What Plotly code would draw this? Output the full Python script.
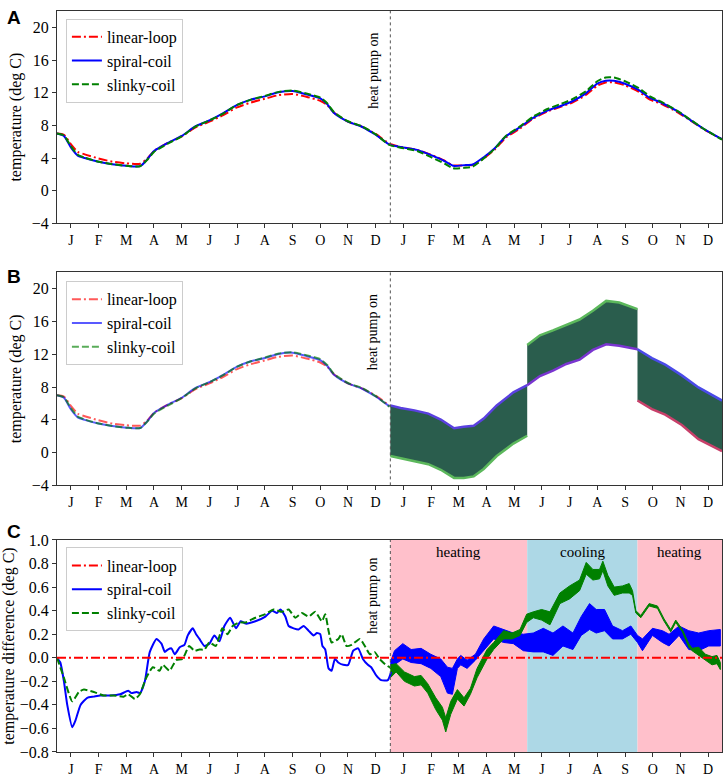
import plotly.graph_objects as go

# ground temperature around the three collectors, two years, x in months
MONTH_LETTERS = ["J", "F", "M", "A", "M", "J", "J", "A", "S", "O", "N", "D"]
HEAT_PUMP_ON = 12.03

A_MONTHS = [0, 0.25, 0.5, 0.75, 1.0, 1.5, 2.0, 2.5, 3.0, 3.25, 3.5, 4.0, 4.5, 5.0,
            5.5, 6.0, 6.5, 7.0, 7.5, 8.0, 8.5, 9.0, 9.5, 9.75, 10.0, 10.5, 11.0, 11.5,
            12.0, 12.5, 13.0, 13.5, 14.0, 14.3, 14.7, 15.0, 15.4, 15.8, 16.2, 16.7,
            17.2, 17.7, 18.2, 18.6, 19.1, 19.5, 19.8, 20.1, 20.5, 21.0, 21.4, 21.8,
            22.4, 22.9, 23.4, 24.0]
LINEAR_T = [7.0, 6.85, 5.7, 4.75, 4.45, 3.95, 3.55, 3.35, 3.3, 3.9, 4.85, 5.85, 6.65,
            7.75, 8.45, 9.25, 10.2, 10.8, 11.25, 11.7, 11.85, 11.5, 11.0, 10.5, 9.55,
            8.45, 7.85, 6.95, 5.75, 5.3, 5.0, 4.4, 3.65, 3.1, 3.1, 3.15, 3.95, 5.05,
            6.5, 7.6, 8.85, 9.7, 10.3, 10.8, 11.75, 12.85, 13.25, 13.25, 12.9, 12.1,
            11.15, 10.65, 9.6, 8.5, 7.4, 6.3]
SPIRAL_T = [7.0, 6.7, 5.3, 4.3, 4.0, 3.55, 3.25, 3.05, 3.0, 3.8, 4.85, 5.85, 6.7, 7.9,
            8.6, 9.5, 10.5, 11.15, 11.55, 12.05, 12.2, 11.8, 11.3, 10.6, 9.5, 8.45,
            7.83, 6.85, 5.65, 5.3, 5.0, 4.35, 3.6, 3.05, 3.13, 3.2, 4.1, 5.2, 6.65,
            7.75, 8.95, 9.8, 10.4, 10.95, 11.95, 13.1, 13.45, 13.45, 13.1, 12.3, 11.35,
            10.8, 9.7, 8.55, 7.45, 6.3]
SLINKY_T = [7.0, 6.75, 5.45, 4.4, 4.05, 3.55, 3.25, 3.05, 3.0, 3.75, 4.75, 5.75, 6.65,
            7.85, 8.6, 9.45, 10.5, 11.15, 11.6, 12.1, 12.25, 11.9, 11.4, 10.7, 9.6,
            8.5, 7.9, 6.9, 5.6, 5.2, 4.85, 4.1, 3.3, 2.75, 2.8, 2.95, 3.95, 5.15, 6.7,
            7.85, 9.1, 10.0, 10.65, 11.2, 12.2, 13.4, 13.85, 13.85, 13.4, 12.55, 11.55,
            10.9, 9.75, 8.6, 7.45, 6.25]

# panel B, second year: band swept by the daily heat pump cycling
B_MONTHS = [12.03, 12.4, 12.9, 13.4, 13.85, 14.33, 14.68, 15.04, 15.4, 15.87, 16.47,
            16.97, 16.97, 17.43, 17.9, 18.38, 18.86, 19.34, 19.82, 20.29, 20.95,
            20.95, 21.47, 21.95, 22.55, 23.15, 24.0]
B_UPPER = [5.77, 5.44, 5.16, 4.76, 4.04, 2.97, 3.17, 3.29, 4.16, 5.76, 7.36, 8.23,
           13.13, 14.33, 14.93, 15.61, 16.25, 17.32, 18.52, 18.32, 17.52, 12.62, 11.54,
           10.74, 9.43, 7.96, 6.36]
B_LOWER = [-0.42, -0.7, -1.0, -1.41, -2.09, -3.09, -3.09, -2.9, -2.0, -0.42, 1.1, 2.06,
           8.23, 9.35, 10.02, 10.82, 11.34, 12.54, 13.22, 13.06, 12.62, 6.36, 5.32,
           4.64, 3.37, 1.65, 0.18]

# panel C: difference to linear-loop
LINEAR_DIFF_MONTHS = [0, 24]
LINEAR_DIFF = [0.0, 0.0]
SPIRAL_D_MONTHS = [0, 0.12, 0.25, 0.37, 0.55, 0.67, 0.85, 1.09, 1.33, 1.56, 1.92, 2.28,
                   2.57, 2.69, 2.87, 3.0, 3.17, 3.35, 3.59, 3.77, 3.89, 4.0, 4.13, 4.25,
                   4.43, 4.6, 4.72, 4.9, 5.02, 5.14, 5.32, 5.5, 5.68, 5.86, 6.04, 6.25,
                   6.46, 6.63, 6.81, 7.16, 7.52, 7.76, 7.94, 8.06, 8.24, 8.36, 8.54, 8.72,
                   8.9, 9.08, 9.26, 9.38, 9.5, 9.58, 9.68, 9.8, 9.91, 10.03, 10.15, 10.33,
                   10.51, 10.69, 10.87, 11.04, 11.22, 11.34, 11.52, 11.7, 11.94, 12.06]
SPIRAL_D = [0.0, -0.04, -0.2, -0.4, -0.59, -0.53, -0.4, -0.34, -0.33, -0.32, -0.32, -0.31,
            -0.28, -0.30, -0.29, -0.30, -0.2, 0.05, 0.16, 0.12, 0.05, 0.07, 0.08, 0.03,
            0.09, 0.11, 0.19, 0.25, 0.2, 0.16, 0.1, 0.12, 0.19, 0.14, 0.27, 0.34, 0.25,
            0.31, 0.29, 0.31, 0.35, 0.40, 0.38, 0.41, 0.35, 0.27, 0.25, 0.24, 0.27, 0.23,
            0.19, 0.21, 0.2, 0.1, 0.07, -0.09, -0.11, -0.01, -0.04, -0.06, -0.06, 0.06,
            0.08, -0.01, -0.06, -0.08, -0.15, -0.19, -0.19, -0.12]
SLINKY_D_MONTHS = [0, 0.25, 0.55, 0.79, 0.97, 1.33, 1.68, 2.04, 2.4, 2.57, 2.81, 2.99,
                   3.22, 3.46, 3.7, 3.82, 4.06, 4.3, 4.53, 4.77, 4.96, 5.14, 5.32, 5.5,
                   5.73, 5.97, 6.15, 6.34, 6.57, 6.81, 7.16, 7.52, 7.82, 8.12, 8.36, 8.6,
                   8.84, 9.08, 9.32, 9.56, 9.68, 9.8, 9.91, 10.15, 10.27, 10.45, 10.63,
                   10.93, 11.11, 11.29, 11.46, 11.64, 11.82, 12.06]
SLINKY_D = [0, -0.17, -0.37, -0.29, -0.27, -0.29, -0.32, -0.32, -0.33, -0.31, -0.35,
            -0.31, -0.17, -0.08, -0.11, -0.06, -0.11, -0.02, -0.01, 0.1, 0.06, 0.07,
            0.07, 0.13, 0.1, 0.25, 0.2, 0.27, 0.3, 0.3, 0.34, 0.37, 0.41, 0.39, 0.41,
            0.34, 0.38, 0.35, 0.39, 0.31, 0.37, 0.23, 0.13, 0.16, 0.2, 0.1, 0.11, 0.16,
            0.1, 0.03, 0.05, -0.01, -0.05, -0.09]

SPIRAL_BAND_MONTHS = [12.03, 12.18, 12.48, 12.78, 13.14, 13.49, 13.85, 14.09, 14.27,
                      14.45, 14.57, 14.8, 15.1, 15.4, 15.76, 16.12, 16.47, 16.83, 17.19,
                      17.55, 17.9, 18.26, 18.62, 18.92, 19.22, 19.46, 19.76, 20.05,
                      20.41, 20.71, 20.95, 21.13, 21.49, 21.85, 22.09, 22.45, 22.8,
                      23.16, 23.52, 23.94]
SPIRAL_BAND_HI = [-0.04, 0.06, 0.12, 0.07, 0.08, 0.03, -0.01, -0.08, -0.09, -0.01, 0.02,
                  -0.02, 0.03, 0.16, 0.27, 0.24, 0.21, 0.20, 0.21, 0.25, 0.21, 0.27,
                  0.21, 0.35, 0.46, 0.41, 0.41, 0.27, 0.23, 0.27, 0.19, 0.16, 0.25,
                  0.23, 0.20, 0.27, 0.23, 0.21, 0.23, 0.24]
SPIRAL_BAND_LO = [-0.09, -0.06, -0.01, -0.04, -0.05, -0.09, -0.16, -0.30, -0.31, -0.09,
                  -0.06, -0.09, -0.02, 0.06, 0.16, 0.13, 0.12, 0.06, 0.05, 0.05, 0.02,
                  0.10, 0.07, 0.19, 0.24, 0.21, 0.23, 0.16, 0.16, 0.20, 0.13, 0.06,
                  0.19, 0.13, 0.10, 0.19, 0.07, 0.06, 0.10, 0.10]
SLINKY_BAND_MONTHS = [12.03, 12.24, 12.54, 12.9, 13.14, 13.38, 13.67, 13.91, 14.03,
                      14.21, 14.45, 14.69, 14.92, 15.16, 15.52, 15.76, 16.12, 16.42,
                      16.71, 16.95, 17.19, 17.49, 17.79, 18.15, 18.5, 18.86, 19.1,
                      19.34, 19.58, 19.7, 19.88, 20.11, 20.41, 20.65, 20.77, 20.89,
                      21.07, 21.37, 21.67, 21.91, 22.15, 22.33, 22.57, 22.8, 22.92,
                      23.16, 23.4, 23.64, 23.82, 23.94]
SLINKY_BAND_HI = [-0.06, -0.05, -0.12, -0.16, -0.15, -0.22, -0.34, -0.42, -0.51, -0.37,
                  -0.27, -0.34, -0.26, -0.09, 0.07, 0.13, 0.23, 0.21, 0.24, 0.37, 0.39,
                  0.41, 0.39, 0.55, 0.61, 0.66, 0.81, 0.75, 0.75, 0.82, 0.70, 0.60,
                  0.61, 0.63, 0.57, 0.40, 0.36, 0.46, 0.44, 0.33, 0.24, 0.32, 0.24,
                  0.12, 0.08, 0.09, 0.03, 0.01, 0.02, -0.04]
SLINKY_BAND_LO = [-0.17, -0.12, -0.20, -0.24, -0.23, -0.30, -0.44, -0.53, -0.63, -0.48,
                  -0.35, -0.41, -0.31, -0.17, -0.01, 0.07, 0.16, 0.16, 0.19, 0.30, 0.34,
                  0.32, 0.28, 0.46, 0.50, 0.57, 0.71, 0.66, 0.67, 0.74, 0.61, 0.53,
                  0.55, 0.55, 0.53, 0.38, 0.34, 0.44, 0.42, 0.31, 0.22, 0.30, 0.22,
                  0.09, 0.06, 0.02, -0.02, -0.06, -0.05, -0.10]

PERIOD_START = [12.03, 16.97, 20.95]
PERIOD_END = [16.97, 20.95, 24.0]
PERIOD_LABEL = ["heating", "cooling", "heating"]
PERIOD_COLOR = ["pink", "lightblue", "pink"]

SERIF = "Liberation Serif"
DASHDOT = "9px,3px,2px,3px"
DASHED = "7px,3px"

fig = go.Figure()

# ---- panel A
styles = [("linear-loop", LINEAR_T, "red", DASHDOT),
          ("spiral-coil", SPIRAL_T, "blue", "solid"),
          ("slinky-coil", SLINKY_T, "green", DASHED)]
for name, vals, col, dash in styles:
    fig.add_trace(go.Scatter(x=A_MONTHS, y=vals, mode="lines", name=name,
                             line=dict(color=col, width=2, dash=dash, shape="spline", smoothing=0.6),
                             xaxis="x", yaxis="y", legend="legend"))

# ---- panel B
light = {"red": "rgba(255,0,0,0.65)", "blue": "rgba(0,0,255,0.65)", "green": "rgba(0,128,0,0.65)"}
n1 = sum(1 for m in A_MONTHS if m <= HEAT_PUMP_ON)
for name, vals, col, dash in styles:
    fig.add_trace(go.Scatter(x=A_MONTHS[:n1], y=vals[:n1], mode="lines", name=name,
                             line=dict(color=light[col], width=2, dash=dash, shape="spline", smoothing=0.6),
                             xaxis="x2", yaxis="y2", legend="legend2"))

fig.add_trace(go.Scatter(x=B_MONTHS + B_MONTHS[::-1], y=B_UPPER + B_LOWER[::-1],
                         fill="toself", fillcolor="#2a5d4d", mode="lines",
                         line=dict(width=0, color="#2a5d4d"), showlegend=False,
                         xaxis="x2", yaxis="y2"))
# edges of the band, split where the heat pump switches mode
cuts = [0] + [i for i in range(1, len(B_MONTHS)) if B_MONTHS[i] == B_MONTHS[i - 1]] + [len(B_MONTHS)]
edge_top = ["#5a40e0", "#5cb85c", "#4a4ae8"]
edge_bot = ["#5cb85c", "#7a35d0", "#c8406a"]
for k in range(len(cuts) - 1):
    sl = slice(cuts[k], cuts[k + 1])
    fig.add_trace(go.Scatter(x=B_MONTHS[sl], y=B_UPPER[sl], mode="lines", showlegend=False,
                             line=dict(color=edge_top[k], width=2.5), xaxis="x2", yaxis="y2"))
    fig.add_trace(go.Scatter(x=B_MONTHS[sl], y=B_LOWER[sl], mode="lines", showlegend=False,
                             line=dict(color=edge_bot[k], width=2.5), xaxis="x2", yaxis="y2"))

# ---- panel C
fig.add_trace(go.Scatter(x=SPIRAL_BAND_MONTHS + SPIRAL_BAND_MONTHS[::-1],
                         y=SPIRAL_BAND_HI + SPIRAL_BAND_LO[::-1], fill="toself",
                         fillcolor="blue", mode="lines", line=dict(width=1, color="blue"),
                         showlegend=False, xaxis="x3", yaxis="y3"))
fig.add_trace(go.Scatter(x=SLINKY_BAND_MONTHS + SLINKY_BAND_MONTHS[::-1],
                         y=SLINKY_BAND_HI + SLINKY_BAND_LO[::-1], fill="toself",
                         fillcolor="green", mode="lines", line=dict(width=1, color="green"),
                         showlegend=False, xaxis="x3", yaxis="y3"))
fig.add_trace(go.Scatter(x=SPIRAL_D_MONTHS, y=SPIRAL_D, mode="lines", name="spiral-coil",
                         line=dict(color="blue", width=2, shape="spline", smoothing=0.5),
                         xaxis="x3", yaxis="y3", legend="legend3", legendrank=2))
fig.add_trace(go.Scatter(x=SLINKY_D_MONTHS, y=SLINKY_D, mode="lines", name="slinky-coil",
                         line=dict(color="green", width=2, dash=DASHED, shape="spline", smoothing=0.5),
                         xaxis="x3", yaxis="y3", legend="legend3", legendrank=3))
fig.add_trace(go.Scatter(x=LINEAR_DIFF_MONTHS, y=LINEAR_DIFF, mode="lines", name="linear-loop",
                         line=dict(color="red", width=2, dash=DASHDOT),
                         xaxis="x3", yaxis="y3", legend="legend3", legendrank=1))

shapes = []
annotations = []
for s, e, lab, col in zip(PERIOD_START, PERIOD_END, PERIOD_LABEL, PERIOD_COLOR):
    shapes.append(dict(type="rect", xref="x3", yref="y3 domain", x0=s, x1=e, y0=0, y1=1,
                       fillcolor=col, line=dict(width=0), layer="below"))
    annotations.append(dict(xref="x3", yref="y3 domain", x=(s + e) / 2, y=1, yanchor="top",
                            yshift=-2, text=lab, showarrow=False,
                            font=dict(family=SERIF, size=15, color="black")))

tops = {"": -20, "2": -20, "3": -16}
for ax in ["", "2", "3"]:
    shapes.append(dict(type="line", xref="x" + ax, yref="y" + ax + " domain",
                       x0=HEAT_PUMP_ON, x1=HEAT_PUMP_ON, y0=0, y1=1,
                       line=dict(color="#555555", width=1, dash="dot")))
    annotations.append(dict(xref="x" + ax, yref="y" + ax + " domain", x=HEAT_PUMP_ON, y=1,
                            xanchor="right", yanchor="top", xshift=-8, yshift=tops[ax],
                            textangle=-90, text="heat pump on", showarrow=False,
                            font=dict(family=SERIF, size=14, color="black")))

for letter, yy in zip(["A", "B", "C"], [0.9914, 0.642, 0.298]):
    annotations.append(dict(xref="paper", yref="paper", x=-0.0645, y=yy, xanchor="center",
                            yanchor="middle", text="<b>" + letter + "</b>", showarrow=False,
                            font=dict(family="Liberation Sans", size=19, color="black")))

tick_pos = [m + 0.5 for m in range(24)]
tick_txt = MONTH_LETTERS * 2


def xax(anchor):
    return dict(range=[0, 24], tickvals=tick_pos, ticktext=tick_txt, ticks="outside",
                ticklen=4, tickcolor="#333", showline=True, linecolor="#333", mirror=True,
                showgrid=False, zeroline=False, anchor=anchor,
                tickfont=dict(family=SERIF, size=14, color="black"))


def yax(anchor, dom, rng, vals, fmt, title):
    return dict(domain=dom, range=rng, tickvals=vals, tickformat=fmt, ticks="outside",
                ticklen=4, tickcolor="#333", showline=True, linecolor="#333", mirror=True,
                showgrid=False, zeroline=False, anchor=anchor,
                tickfont=dict(family=SERIF, size=16, color="black"),
                title=dict(text=title, standoff=6, font=dict(family=SERIF, size=16, color="black")))


legend_style = dict(bgcolor="rgba(255,255,255,0.85)", bordercolor="#cccccc", borderwidth=1,
                    font=dict(family=SERIF, size=16, color="black"), xanchor="left",
                    yanchor="top", x=0.0134)

temp_ticks = [-4, 0, 4, 8, 12, 16, 20]
diff_ticks = [-0.8, -0.6, -0.4, -0.2, 0.0, 0.2, 0.4, 0.6, 0.8, 1.0]

fig.update_layout(
    width=726, height=780, margin=dict(l=53, r=3, t=6, b=18),
    paper_bgcolor="white", plot_bgcolor="white",
    xaxis=xax("y"), xaxis2=xax("y2"), xaxis3=xax("y3"),
    yaxis=yax("x", [0.7134, 1.0], [-4, 22], temp_ticks, "d", "temperature (deg C)"),
    yaxis2=yax("x2", [0.3598, 0.6472], [-4, 22], temp_ticks, "d", "temperature (deg C)"),
    yaxis3=yax("x3", [0.0, 0.2861], [-0.8, 1.0], diff_ticks, ".1f", "temperature difference (deg C)"),
    legend=dict(legend_style, y=0.9894),
    legend2=dict(legend_style, y=0.6353),
    legend3=dict(legend_style, y=0.276),
    shapes=shapes, annotations=annotations, hovermode=False,
)

# page body has a default margin; drop it so the figure fills the window
fig.write_html("out.html", config={"displayModeBar": False},
               post_script="document.body.style.margin='0';")
